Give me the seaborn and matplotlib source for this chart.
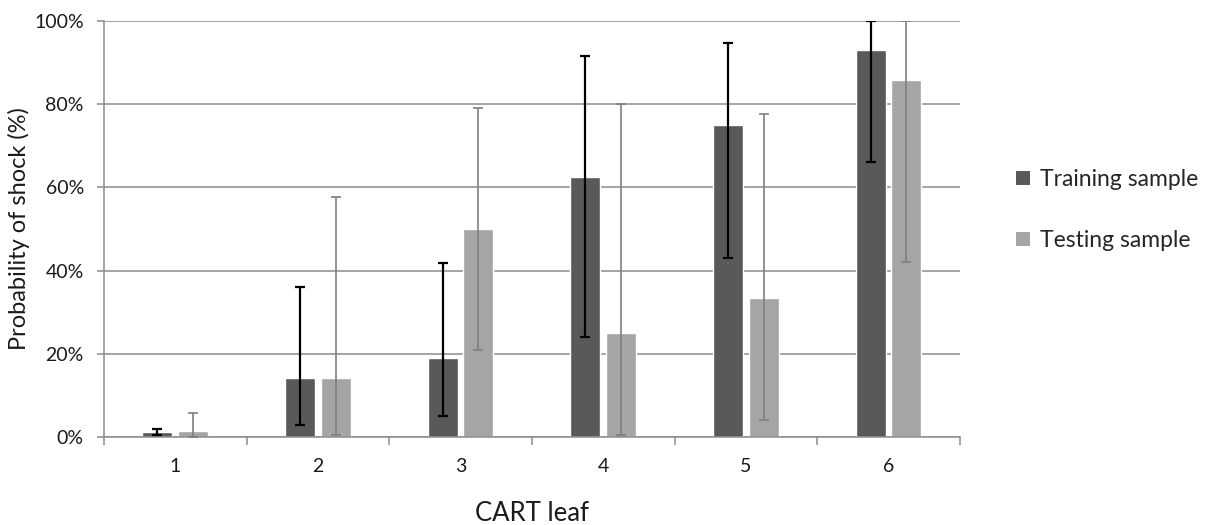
import matplotlib
matplotlib.use("Agg")
import matplotlib.pyplot as plt
from matplotlib.patches import Patch
from matplotlib.ticker import PercentFormatter, FixedLocator
import numpy as np
import pandas as pd
import seaborn as sns

leaves = ["1", "2", "3", "4", "5", "6"]
series = ["Training sample", "Testing sample"]

train_prob = [1.3, 14.3, 19.0, 62.5, 75.0, 93.0]
train_low = [0.5, 3.0, 5.0, 24.0, 43.0, 66.0]
train_high = [2.0, 36.0, 41.8, 91.5, 94.6, 100.0]

test_prob = [1.5, 14.3, 50.0, 25.0, 33.3, 85.7]
test_low = [0.0, 0.4, 21.0, 0.6, 4.2, 42.0]
test_high = [5.8, 57.7, 79.0, 80.0, 77.7, 100.0]

df = pd.DataFrame({
    "leaf": leaves * 2,
    "sample": [series[0]] * len(leaves) + [series[1]] * len(leaves),
    "prob": train_prob + test_prob,
})

colors = {"Training sample": "#595959", "Testing sample": "#A5A5A5"}
err_colors = ["#000000", "#7F7F7F"]
err_widths = [1.6, 1.2]

sns.set_theme(style="white")
plt.rcParams["font.family"] = ["Lato", "DejaVu Sans"]

fig = plt.figure(figsize=(12.13, 5.25), dpi=100)
ax = fig.add_axes([0.0857, 0.1676, 0.7057, 0.7924])

sns.barplot(data=df, x="leaf", y="prob", hue="sample", order=leaves,
            hue_order=series, palette=colors, width=0.5, gap=0.16,
            errorbar=None, legend=False, ax=ax, saturation=1)

bar_groups = list(ax.containers)
lows = [train_low, test_low]
highs = [train_high, test_high]
vals = [train_prob, test_prob]
for i, cont in enumerate(bar_groups):
    xs = [p.get_x() + p.get_width() / 2 for p in cont.patches]
    v = np.array(vals[i])
    yerr = [v - np.array(lows[i]), np.array(highs[i]) - v]
    ax.errorbar(xs, v, yerr=yerr, fmt="none", ecolor=err_colors[i],
                elinewidth=err_widths[i], capsize=3.6,
                capthick=err_widths[i], zorder=3)

ax.set_ylim(0, 100)
ax.set_xlim(-0.5, 5.5)
ax.yaxis.set_major_locator(FixedLocator([0, 20, 40, 60, 80, 100]))
ax.yaxis.set_major_formatter(PercentFormatter(decimals=0))
ax.grid(axis="y", color="#8C8C8C", linewidth=1.1)
ax.set_axisbelow(True)

for side in ["top", "right"]:
    ax.spines[side].set_visible(False)
for side in ["left", "bottom"]:
    ax.spines[side].set_color("#8C8C8C")
    ax.spines[side].set_linewidth(1.1)

ax.set_xticks(np.arange(-0.5, 6, 1), minor=True)
ax.tick_params(axis="x", which="major", length=0, pad=15, labelsize=14,
               labelcolor="#1a1a1a")
ax.tick_params(axis="x", which="minor", length=6, width=1.1,
               color="#8C8C8C", direction="out", bottom=True)
ax.tick_params(axis="y", which="major", length=5, width=1.1,
               color="#8C8C8C", direction="out", left=True, pad=9.5,
               labelsize=14, labelcolor="#1a1a1a")

ax.set_xlabel("CART leaf", fontsize=18.5, labelpad=19, color="#1a1a1a")
ax.set_ylabel("Probability of shock (%)", fontsize=17, labelpad=3,
              color="#1a1a1a")

handles = [Patch(facecolor=colors[s], edgecolor="none", label=s)
           for s in series]
fig.legend(handles=handles, loc="center left",
           bbox_to_anchor=(0.8205, 0.6), frameon=False, fontsize=16.5,
           handlelength=0.6, handleheight=0.6, handletextpad=0.45,
           labelspacing=1.75)

fig.savefig("out.png", dpi=100)
